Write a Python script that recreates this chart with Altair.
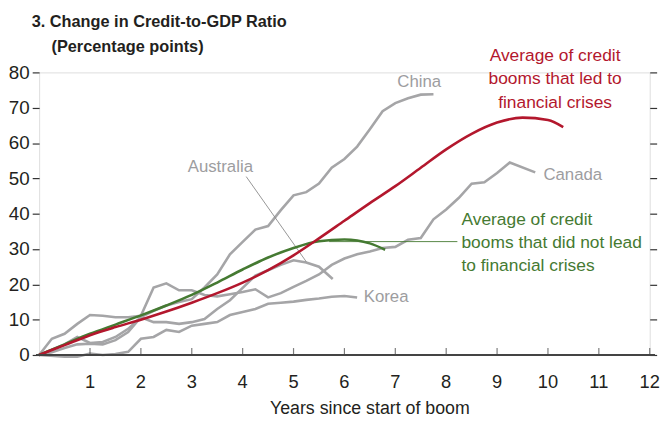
import altair as alt
import pandas as pd

# ---------------- data ----------------
x_ticks = list(range(1, 13))
y_ticks = list(range(0, 90, 10))

china_t = [0, 0.25, 0.5, 0.75, 1.0, 1.25, 1.5, 1.75, 2.0, 2.25, 2.5, 2.75, 3.0, 3.25, 3.5, 3.75,
           4.0, 4.25, 4.5, 4.75, 5.0, 5.25, 5.5, 5.75, 6.0, 6.25, 6.5, 6.75, 7.0, 7.25, 7.5, 7.75]
china_v = [0, 1.5, 3.0, 5.1, 3.4, 3.7, 5.1, 7.4, 10.7, 12.5, 14.0, 15.0, 15.8, 19.1, 22.8, 28.5,
           32.0, 35.5, 36.5, 41.0, 45.2, 46.1, 48.5, 53.0, 55.5, 59.0, 63.9, 69.0, 71.3, 72.7, 73.7, 73.8]

canada_t = [0, 0.25, 0.5, 0.75, 1.0, 1.25, 1.5, 1.75, 2.0, 2.25, 2.5, 2.75, 3.0, 3.25, 3.5, 3.75,
            4.0, 4.25, 4.5, 4.75, 5.0, 5.25, 5.5, 5.75, 6.0, 6.25, 6.5, 6.75, 7.0, 7.25, 7.5, 7.75,
            8.0, 8.25, 8.5, 8.75, 9.0, 9.25, 9.75]
canada_v = [0, 4.6, 6.0, 8.8, 11.3, 11.1, 10.7, 10.7, 11.1, 19.1, 20.3, 18.3, 18.3, 17.0, 16.6, 17.2,
            17.8, 18.6, 16.3, 17.5, 19.3, 21.0, 22.8, 25.5, 27.3, 28.5, 29.3, 30.3, 30.6, 32.6, 33.1, 38.4,
            41.2, 44.5, 48.5, 48.9, 51.5, 54.5, 51.7]

australia_t = [0, 0.25, 0.5, 0.75, 1.0, 1.25, 1.5, 1.75, 2.0, 2.25, 2.5, 2.75, 3.0, 3.25, 3.5, 3.75,
               4.0, 4.25, 4.5, 4.75, 5.0, 5.25, 5.5, 5.77]
australia_v = [0, 0.8, 2.0, 3.0, 3.2, 3.0, 4.2, 6.5, 10.7, 9.3, 9.3, 8.8, 9.3, 10.2, 13.0, 15.5,
               19.0, 22.5, 24.0, 25.5, 26.8, 26.2, 25.0, 21.5]

korea_t = [0, 0.5, 0.75, 1.0, 1.25, 1.5, 1.75, 2.0, 2.25, 2.5, 2.75, 3.0, 3.25, 3.5, 3.75,
           4.0, 4.25, 4.5, 4.75, 5.0, 5.25, 5.5, 5.75, 6.0, 6.25]
korea_v = [0, -0.5, -0.5, 0.4, 0.0, 0.3, 0.9, 4.6, 5.1, 7.1, 6.5, 8.3, 8.8, 9.3, 11.3,
           12.2, 13.0, 14.5, 14.8, 15.1, 15.6, 16.0, 16.5, 16.7, 16.3]

crisis_t = [0, 0.5, 1, 1.5, 2, 2.5, 3, 3.5, 4, 4.5, 5, 5.5, 6, 6.5, 7, 7.5, 8, 8.5, 9, 9.5, 10, 10.3]
crisis_v = [0, 2.8, 5.6, 7.9, 10.0, 12.3, 14.8, 17.5, 20.5, 24.0, 28.2, 33.0, 38.0, 43.0, 47.8,
            53.0, 58.2, 62.6, 65.8, 67.2, 66.5, 64.5]

nocrisis_t = [0, 0.5, 1, 1.5, 2, 2.5, 3, 3.5, 4, 4.5, 5, 5.5, 6, 6.5, 6.8]
nocrisis_v = [0, 3.0, 6.0, 8.6, 11.2, 14.0, 17.0, 20.5, 24.2, 27.6, 30.3, 32.2, 32.7, 31.6, 29.8]

country_names = ["China", "Australia", "Korea", "Canada"]
country_label_t = [7.47, 2.92, 6.38, 9.91]
country_label_v = [77.4, 53.1, 16.3, 50.8]
country_label_align = ["center", "left", "left", "left"]

# ---------------- styling ----------------
FONT = "Liberation Sans"
GRAY = "#a5a5a7"
LABEL_GRAY = "#9d9d9f"
RED = "#b3172d"
GREEN = "#457a32"
INK = "#231f20"
W, H = 618, 286


def frame(name, t, v):
    return pd.DataFrame({"series": name, "t": t, "v": v})


gray_df = pd.concat([
    frame("China", china_t, china_v),
    frame("Canada", canada_t, canada_v),
    frame("Australia", australia_t, australia_v),
    frame("Korea", korea_t, korea_v),
])
crisis_df = frame("crisis", crisis_t, crisis_v)
nocrisis_df = frame("nocrisis", nocrisis_t, nocrisis_v)

xs = alt.Scale(domain=[0, 12], nice=False, zero=False)
ys = alt.Scale(domain=[0, 80], nice=False)

X0 = alt.X("t:Q", scale=xs, axis=None)
Y0 = alt.Y("v:Q", scale=ys, axis=None)

y_left = alt.Y("v:Q", scale=ys, axis=alt.Axis(
    orient="left", values=y_ticks, domain=False, grid=False, tickSize=7, tickColor="#333333",
    tickWidth=1.2, labelFontSize=19, labelFont=FONT, labelColor=INK, labelPadding=3, title=None))

gray_lines = alt.Chart(gray_df).mark_line(color=GRAY, strokeWidth=2.6, clip=False).encode(
    x=X0, y=y_left, detail="series:N")

right_axis = alt.Chart(gray_df).mark_point(opacity=0).encode(
    x=X0,
    y=alt.Y("v:Q", scale=ys, axis=alt.Axis(
        orient="right", values=y_ticks, domain=False, grid=False, labels=False,
        tickSize=7, tickColor="#333333", tickWidth=1.2, title=None)))

green_line = alt.Chart(nocrisis_df).mark_line(
    color=GREEN, strokeWidth=2.6, interpolate="monotone").encode(x=X0, y=Y0)
red_line = alt.Chart(crisis_df).mark_line(
    color=RED, strokeWidth=2.6, interpolate="monotone").encode(x=X0, y=Y0)

tick_df = pd.DataFrame({"t": x_ticks, "lab": [str(i) for i in x_ticks]})
x_axis_line = alt.Chart(tick_df).mark_rule(color="#444444", strokeWidth=1.3).encode(
    x=alt.value(-2.5), x2=alt.value(W + 5), y=alt.value(H))
x_up_ticks = alt.Chart(tick_df).mark_tick(
    color="#444444", thickness=1.2, size=7, orient="vertical", yOffset=-3.5).encode(
    x=X0, y=alt.value(H))
x_labels = alt.Chart(tick_df).mark_text(
    font=FONT, fontSize=18.5, color=INK, align="center", baseline="middle").encode(
    x=X0, y=alt.value(H + 27), text="lab:N")
x_title = alt.Chart(pd.DataFrame({"t": [6.5]})).mark_text(
    font=FONT, fontSize=18, color=INK, align="center", baseline="middle",
    text="Years since start of boom").encode(x=X0, y=alt.value(H + 55))

# pointer lines
aus_ptr = alt.Chart(pd.DataFrame({"t": [4.07], "t2": [5.25], "v": [50.5], "v2": [26.4]})).mark_rule(
    color="#8a8a8a", strokeWidth=0.9).encode(x=X0, x2="t2:Q", y=Y0, y2="v2:Q")
green_ptr = alt.Chart(pd.DataFrame({"t": [5.7], "t2": [8.22], "v": [32.1]})).mark_rule(
    color=GREEN, strokeWidth=0.9).encode(x=X0, x2="t2:Q", y=Y0)

labels_df = pd.DataFrame({
    "name": country_names, "t": country_label_t, "v": country_label_v,
    "al": country_label_align,
})
country_text = alt.Chart(labels_df[labels_df["al"] == "center"]).mark_text(
    font=FONT, fontSize=17, color=LABEL_GRAY, align="center", baseline="middle").encode(
    x=X0, y=Y0, text="name:N")
country_text2 = alt.Chart(labels_df[labels_df["al"] == "left"]).mark_text(
    font=FONT, fontSize=17, color=LABEL_GRAY, align="left", baseline="middle").encode(
    x=X0, y=Y0, text="name:N")

red_note = alt.Chart(pd.DataFrame({"t": [10.14], "v": [84.7]})).mark_text(
    font=FONT, fontSize=17.6, color=RED, align="center", baseline="middle", lineHeight=23.8,
    text=["Average of credit", "booms that led to", "financial crises"]).encode(x=X0, y=Y0)
green_note = alt.Chart(pd.DataFrame({"t": [8.3], "v": [38.2]})).mark_text(
    font=FONT, fontSize=17.6, color=GREEN, align="left", baseline="middle", lineHeight=23.3,
    text=["Average of credit", "booms that did not lead", "to financial crises"]).encode(x=X0, y=Y0)

title1 = alt.Chart(pd.DataFrame({"t": [0]})).mark_text(
    font=FONT, fontSize=16.5, fontWeight="bold", color=INK, align="left", baseline="middle",
    text="3. Change in Credit-to-GDP Ratio").encode(x=alt.value(-7.5), y=alt.value(-50.7))
title2 = alt.Chart(pd.DataFrame({"t": [0]})).mark_text(
    font=FONT, fontSize=16.5, fontWeight="bold", color=INK, align="left", baseline="middle",
    text="(Percentage points)").encode(x=alt.value(12.5), y=alt.value(-25.7))

chart = alt.layer(
    gray_lines, right_axis, aus_ptr, green_ptr, green_line, red_line,
    x_axis_line, x_up_ticks, x_labels, x_title,
    country_text, country_text2, red_note, green_note, title1, title2,
).resolve_axis(y="independent").properties(
    width=W, height=H,
    autosize=alt.AutoSizeParams(type="none"),
    padding={"left": 31.5, "top": 62.7, "right": 10.4, "bottom": 62},
).configure_view(stroke=None).configure(font=FONT)

chart.save("out.html", embed_options={"renderer": "svg", "actions": False})
